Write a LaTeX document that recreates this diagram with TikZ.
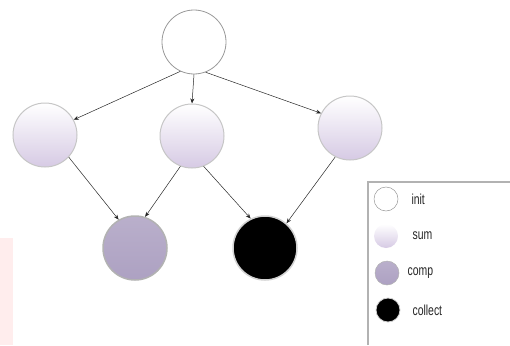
\documentclass[tikz,border=0pt]{standalone}
\usepackage{fontspec}
\setmainfont[FakeStretch=0.72]{Liberation Sans}
\usetikzlibrary{arrows.meta}
\definecolor{lav}{HTML}{D6CAE4}
\definecolor{lavdark}{HTML}{ADA1C2}
\tikzset{
  ball/.style={circle,minimum size=64pt,inner sep=0pt,draw=gray!45,line width=1pt},
  initball/.style={ball,fill=white,draw=gray!80,line width=0.8pt},
  sumball/.style={ball,top color=white,bottom color=lav},
  compball/.style={ball,top color=lavdark!85,bottom color=lavdark,draw=gray!60,line width=1.5pt},
  collectball/.style={ball,fill=black,draw=gray!35,line width=1.5pt},
  edge/.style={draw=gray!30!black,line width=0.5pt,-{Stealth[length=5pt,width=4pt]}},
  legtext/.style={anchor=west,font=\fontsize{14.5}{16}\selectfont,text=black!85}
}
\begin{document}
\begin{tikzpicture}[x=1pt,y=-1pt]
\useasboundingbox (0,0) rectangle (510,345);
\fill[red!7] (0,238) rectangle (13,345);
% graph
\node[initball] (init) at (194,42) {};
\node[sumball] (sumL) at (45,135) {};
\node[sumball] (sumM) at (192,136) {};
\node[sumball] (sumR) at (350,128) {};
\node[compball] (comp) at (135,248) {};
\node[collectball] (collect) at (265,248) {};
\draw[edge] (init.245) -- (sumL.28);
\draw[edge] (init.270) -- (sumM.90);
\draw[edge] (init.291) -- (sumR.153);
\draw[edge] (sumL.317) -- (comp.120);
\draw[edge] (sumM.249) -- (comp.72);
\draw[edge] (sumM.291) -- (collect.116);
\draw[edge] (sumR.243) -- (collect.49);
% legend
\draw[gray!60,line width=1.5pt] (368,345) -- (368,182) -- (510,182);
\node[initball,minimum size=24pt,line width=0.5pt] (kinit) at (386,199) {};
\node[sumball,minimum size=24pt,draw=none] (ksum) at (386,236) {};
\node[compball,minimum size=24pt,line width=0.5pt] (kcomp) at (387,273) {};
\node[collectball,minimum size=24pt,line width=0.8pt] (kcollect) at (388,310) {};
\node[legtext] at (408,199) {init};
\node[legtext] at (409,236) {sum};
\node[legtext] at (404,273) {comp};
\node[legtext] at (409,310) {collect};
\end{tikzpicture}
\end{document}
